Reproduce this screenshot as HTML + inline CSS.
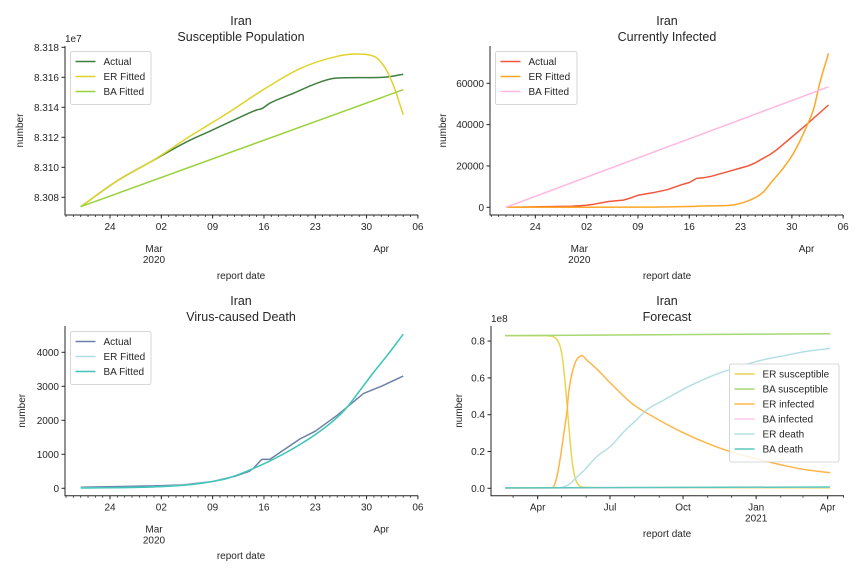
<!DOCTYPE html>
<html><head><meta charset="utf-8"><style>
html,body{margin:0;padding:0;background:#fff;}
svg{display:block;font-family:"Liberation Sans","DejaVu Sans",sans-serif;}
</style></head><body>
<svg id="fig" width="864" height="576" viewBox="0 0 864 576" xmlns="http://www.w3.org/2000/svg"></svg>
<script>
// ---- data (day index: 0 = 2020-02-20) ----
const susDays = [0,5,10,14.5,18,21.7,24,24.7,25.8,29,32.2,34.5,36.3,41.3,44];
const susActual = [8.30737,8.3091,8.31049,8.31171,8.31249,8.31333,8.31382,8.31391,8.31427,8.31493,8.3156,8.31593,8.31597,8.3160,8.3162];
const susERDays = [0,5,10,15,20,25,30,35,37.5,40,41.7,42.9,44];
const susER = [8.30737,8.3091,8.3105,8.3121,8.3136,8.3152,8.3166,8.3174,8.31755,8.3174,8.31648,8.31515,8.3135];
const susBADays = [0,44];
const susBA = [8.30737,8.31517];
const infDays = [0,9,11,12,14,16,17,18,20,22,24,25,26,27,28,30,32,33,34,35,36,37,39,41,44];
const infActual = [0,500,1000,1500,2800,3500,4500,5800,7000,8500,11000,12000,14000,14300,15000,17000,19000,20000,21500,23500,25500,28000,34000,40000,49500];
const infERDays = [0,20,25,28,30.7,33.3,35,36.4,37.5,39.2,41,42,42.8,44];
const infER = [0,100,400,700,1000,3500,7000,13000,17500,26000,39000,48000,60000,74500];
const infBADays = [0,44];
const infBA = [0,58300];
const dthDays = [0,10,14,18,21,23,23.6,24.7,25.8,29.9,32,35,38.6,41,44];
const dthActual = [30,70,100,200,350,500,600,850,850,1450,1680,2150,2790,3000,3300];
const dthFitDays = [0,10,15,18,20,25,28,30,32,34,36,38,40,42,44];
const dthBA = [10,40,110,200,290,720,1050,1300,1580,1900,2300,2850,3420,3960,4530];
const dthER = [12,42,112,202,292,722,1052,1302,1582,1902,2302,2852,3422,3962,4532];
// forecast (values in 1e8)
const fcSusERDays = [0,50,60,65,70,73,76,79,82,85,88,92,100,130,409];
const fcSusER = [0.83,0.83,0.825,0.81,0.76,0.68,0.55,0.40,0.25,0.13,0.06,0.02,0.005,0.003,0.003];
const fcSusBADays = [0,409];
const fcSusBA = [0.83,0.84];
const fcInfERDays = [0,55,60,65,70,74,77.6,80,84,88,92,97,102,115,133,160,190,225,260,290,317,350,380,409];
const fcInfER = [0,0.002,0.005,0.06,0.18,0.30,0.41,0.52,0.62,0.68,0.71,0.72,0.70,0.65,0.57,0.46,0.38,0.30,0.235,0.19,0.16,0.125,0.10,0.085];
const fcInfBADays = [0,409];
const fcInfBA = [0.001,0.006];
const fcDthERDays = [0,65,72,80,90,100,115,133,150,165,178,200,225,260,290,317,350,380,409];
const fcDthER = [0.002,0.002,0.005,0.02,0.06,0.10,0.17,0.23,0.31,0.37,0.425,0.48,0.54,0.61,0.655,0.69,0.72,0.745,0.76];
const fcDthBADays = [0,409];
const fcDthBA = [0.002,0.007];

const NS="http://www.w3.org/2000/svg";
const fig=document.getElementById('fig');
function mk(tag,attrs,parent){const e=document.createElementNS(NS,tag);for(const k in attrs)e.setAttribute(k,attrs[k]);(parent||fig).appendChild(e);return e;}
function txt(x,y,s,size,anchor,parent,extra){const t=mk('text',Object.assign({x:x,y:y,'font-size':size,'text-anchor':anchor||'middle',fill:'#262626'},extra||{}),parent);t.textContent=s;return t;}
// monotone cubic path (no overshoot)
function monoPath(P){
  const n=P.length; if(n<3) return 'M'+P.map(p=>p[0].toFixed(1)+','+p[1].toFixed(1)).join('L');
  const dx=[],sl=[];for(let i=0;i<n-1;i++){dx.push(P[i+1][0]-P[i][0]);sl.push((P[i+1][1]-P[i][1])/dx[i]);}
  const m=[sl[0]];for(let i=1;i<n-1;i++){m.push(sl[i-1]*sl[i]<=0?0:(sl[i-1]+sl[i])/2);}m.push(sl[n-2]);
  for(let i=0;i<n-1;i++){if(sl[i]===0){m[i]=0;m[i+1]=0;continue;}const a=m[i]/sl[i],b=m[i+1]/sl[i],h=a*a+b*b;if(h>9){const t=3/Math.sqrt(h);m[i]=t*a*sl[i];m[i+1]=t*b*sl[i];}}
  let d='M'+P[0][0].toFixed(1)+','+P[0][1].toFixed(1);
  for(let i=0;i<n-1;i++){const h=dx[i]/3;d+=`C${(P[i][0]+h).toFixed(1)},${(P[i][1]+m[i]*h).toFixed(1)} ${(P[i+1][0]-h).toFixed(1)},${(P[i+1][1]-m[i+1]*h).toFixed(1)} ${P[i+1][0].toFixed(1)},${P[i+1][1].toFixed(1)}`;}
  return d;
}

function panel(cfg){
  const g=mk('g',{});
  
  
  const X=d=>cfg.x0+d*cfg.pxDay;
  const Y=v=>cfg.yZero-(v-cfg.yBase)*cfg.pxUnit;
  const t1=txt(cfg.cx,cfg.titleY,'Iran',12.5,'middle',g);
  
  
  const t2=txt(cfg.cx,cfg.titleY+16,cfg.title,12.5,'middle',g);
  
  
  cfg.series.forEach(s=>{
    const P=s.days.map((d,i)=>[X(d),Y(s.vals[i])]);
    const d=s.smooth?monoPath(P):'M'+P.map(p=>p[0].toFixed(1)+','+p[1].toFixed(1)).join('L');
    const pl=mk('path',{d:d,fill:'none',stroke:s.color,'stroke-width':1.5,'stroke-linejoin':'round'},g);
    
    
  });
  const sp=mk('path',{d:`M${cfg.left},${cfg.top}V${cfg.bottom}H${cfg.right}`,fill:'none',stroke:'#262626','stroke-width':1},g);
  
  
  cfg.yTicks.forEach((v,i)=>{
    const y=Y(v);
    mk('line',{x1:cfg.left-3.5,x2:cfg.left,y1:y,y2:y,stroke:'#262626'},g);
    const l=txt(cfg.left-6,y+3.5,cfg.yLabels[i],10,'end',g);
    
    
  });
  if(cfg.offset){const o=txt(cfg.left,cfg.top-4,cfg.offset,10,'start',g);}
  cfg.minor.forEach(d=>{const x=X(d);if(x>=cfg.left-0.5&&x<=cfg.right+0.5)mk('line',{x1:x,x2:x,y1:cfg.bottom,y2:cfg.bottom+2,stroke:'#262626','stroke-width':0.8},g);});
  cfg.major.forEach((d,i)=>{
    const x=X(d);
    mk('line',{x1:x,x2:x,y1:cfg.bottom,y2:cfg.bottom+3.5,stroke:'#262626'},g);
    const l=txt(x,cfg.bottom+15,cfg.majorLabels[i],10,'middle',g);
    
    
  });
  cfg.sec.forEach(s=>{
    const x=X(s.d);
    s.lines.forEach((line,j)=>{const l=txt(x,cfg.bottom+s.y+j*11,line,10,'middle',g);});
  });
  const xl=txt(cfg.cx,cfg.xLabelY,'report date',10,'middle',g);
  
  
  const yl=txt(0,0,'number',10,'middle',g,{transform:`translate(${cfg.yLabelX},${(cfg.top+cfg.bottom)/2}) rotate(-90)`});
  
  
  const lg=mk('g',{},g);
  
  
  const L=cfg.legend;
  mk('rect',{x:L.x,y:L.y,width:L.w,height:cfg.series.length*L.step+8,rx:2,fill:'#fff','fill-opacity':0.85,stroke:'#ccc','stroke-width':0.8},lg);
  cfg.series.forEach((s,i)=>{
    const yy=L.y+10+i*L.step;
    const e=mk('g',{},lg);
    
    
    mk('line',{x1:L.x+5,x2:L.x+25,y1:yy,y2:yy,stroke:s.color,'stroke-width':1.5},e);
    txt(L.x+33,yy+3.5,s.label,10,'start',e);
  });
}
const daily=[];for(let d=-2;d<=46;d++)daily.push(d);
const wkMajor=[4,11,18,25,32,39,46];
const wkLabels=['24','02','09','16','23','30','06'];
const secTop=[{d:10,y:37,lines:['Mar','2020']},{d:41,y:37,lines:['Apr']}];

panel({name:'susceptible-chart',x0:80.7,pxDay:7.33,yZero:197.3,yBase:8.308,pxUnit:15000,left:65,right:418,top:46,bottom:215,cx:241,titleY:25,title:'Susceptible Population',
  yTicks:[8.308,8.310,8.312,8.314,8.316,8.318],yLabels:['8.308','8.310','8.312','8.314','8.316','8.318'],offset:'1e7',
  minor:daily,major:wkMajor,majorLabels:wkLabels,sec:secTop,xLabelY:279,yLabelX:23,legend:{x:70.5,y:51.5,w:80.5,step:15},
  series:[{key:'actual',label:'Actual',color:'#3f7f3f',days:susDays,vals:susActual,smooth:true},
          {key:'er-fitted',label:'ER Fitted',color:'#e1d22a',days:susERDays,vals:susER,smooth:true},
          {key:'ba-fitted',label:'BA Fitted',color:'#9ad23c',days:susBADays,vals:susBA}]});
panel({name:'infected-chart',x0:506,pxDay:7.33,yZero:207.3,yBase:0,pxUnit:124/60000,left:490,right:843,top:46,bottom:215,cx:667,titleY:25,title:'Currently Infected',
  yTicks:[0,20000,40000,60000],yLabels:['0','20000','40000','60000'],
  minor:daily,major:wkMajor,majorLabels:wkLabels,sec:secTop,xLabelY:279,yLabelX:446,legend:{x:495.5,y:51.5,w:81.5,step:15},
  series:[{key:'actual',label:'Actual',color:'#f0573c',days:infDays,vals:infActual},
          {key:'er-fitted',label:'ER Fitted',color:'#ffa726',days:infERDays,vals:infER,smooth:true},
          {key:'ba-fitted',label:'BA Fitted',color:'#ffb8e0',days:infBADays,vals:infBA}]});
panel({name:'death-chart',x0:80.7,pxDay:7.33,yZero:488.3,yBase:0,pxUnit:0.034,left:65,right:418,top:326,bottom:495.7,cx:241,titleY:305,title:'Virus-caused Death',
  yTicks:[0,1000,2000,3000,4000],yLabels:['0','1000','2000','3000','4000'],
  minor:daily,major:wkMajor,majorLabels:wkLabels,sec:[{d:10,y:37,lines:['Mar','2020']},{d:41,y:37,lines:['Apr']}],xLabelY:559,yLabelX:25,legend:{x:70.5,y:331.5,w:80.5,step:15},
  series:[{key:'actual',label:'Actual',color:'#6b80a8',days:dthDays,vals:dthActual},
          {key:'er-fitted',label:'ER Fitted',color:'#b0dde3',days:dthFitDays,vals:dthER,smooth:true},
          {key:'ba-fitted',label:'BA Fitted',color:'#3fc6b8',days:dthFitDays,vals:dthBA,smooth:true}]});
panel({name:'forecast-chart',x0:505.1,pxDay:0.7945,yZero:488.3,yBase:0,pxUnit:184,left:491,right:844,top:326,bottom:495.7,cx:667,titleY:305,title:'Forecast',
  yTicks:[0,0.2,0.4,0.6,0.8],yLabels:['0.0','0.2','0.4','0.6','0.8'],offset:'1e8',
  minor:[-19,10,41,71,102,132,163,194,224,255,285,316,347,375,406,426],major:[41,132,224,316,406],majorLabels:['Apr','Jul','Oct','Jan','Apr'],
  sec:[{d:316,y:26,lines:['2021']}],xLabelY:537,yLabelX:462,legend:{x:729.5,y:364,w:109.5,step:15},
  series:[{key:'er-susceptible',label:'ER susceptible',color:'#e5d650',days:fcSusERDays,vals:fcSusER,smooth:true},
          {key:'ba-susceptible',label:'BA susceptible',color:'#a8d872',days:fcSusBADays,vals:fcSusBA},
          {key:'er-infected',label:'ER infected',color:'#ffb548',days:fcInfERDays,vals:fcInfER,smooth:true},
          {key:'ba-infected',label:'BA infected',color:'#ffc8e6',days:fcInfBADays,vals:fcInfBA},
          {key:'er-death',label:'ER death',color:'#b4e0e4',days:fcDthERDays,vals:fcDthER,smooth:true},
          {key:'ba-death',label:'BA death',color:'#5cc8bc',days:fcDthBADays,vals:fcDthBA}]});
</script>
</body></html>
